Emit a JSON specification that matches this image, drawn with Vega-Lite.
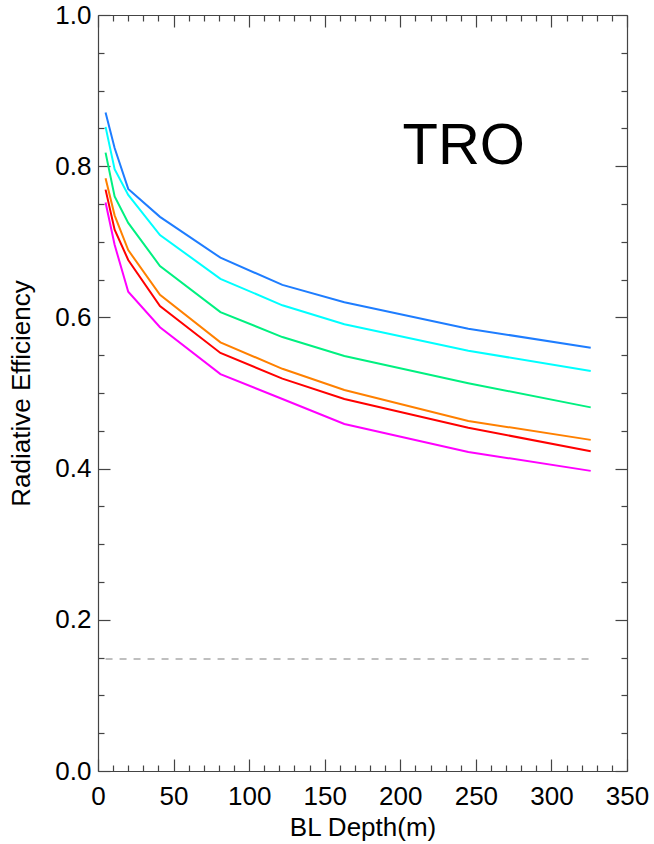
{
  "$schema": "https://vega.github.io/schema/vega-lite/v6.json",
  "width": 529,
  "height": 756,
  "autosize": "none",
  "padding": {"left": 98, "top": 15, "right": 27, "bottom": 73},
  "background": "white",
  "config": {
    "view": {"stroke": null},
    "axis": {
      "domainColor": "#444444",
      "tickColor": "#444444",
      "domainWidth": 1.2,
      "tickWidth": 1.2,
      "grid": false,
      "labelFont": "Liberation Sans",
      "titleFont": "Liberation Sans",
      "labelFontSize": 26,
      "titleFontSize": 26,
      "titleFontWeight": "normal",
      "labelColor": "black",
      "titleColor": "black",
      "labelOverlap": false,
      "labelFlush": false
    }
  },
  "datasets": {
    "curves": [
      {"series": "s1", "depth": 5, "eff": 0.871}, {"series": "s1", "depth": 11, "eff": 0.824}, {"series": "s1", "depth": 20, "eff": 0.770}, {"series": "s1", "depth": 41, "eff": 0.733}, {"series": "s1", "depth": 81, "eff": 0.679}, {"series": "s1", "depth": 122, "eff": 0.643}, {"series": "s1", "depth": 163, "eff": 0.620}, {"series": "s1", "depth": 245, "eff": 0.585}, {"series": "s1", "depth": 326, "eff": 0.560},
      {"series": "s2", "depth": 5, "eff": 0.852}, {"series": "s2", "depth": 11, "eff": 0.796}, {"series": "s2", "depth": 20, "eff": 0.762}, {"series": "s2", "depth": 41, "eff": 0.709}, {"series": "s2", "depth": 81, "eff": 0.651}, {"series": "s2", "depth": 122, "eff": 0.616}, {"series": "s2", "depth": 163, "eff": 0.591}, {"series": "s2", "depth": 245, "eff": 0.556}, {"series": "s2", "depth": 326, "eff": 0.529},
      {"series": "s3", "depth": 5, "eff": 0.818}, {"series": "s3", "depth": 11, "eff": 0.760}, {"series": "s3", "depth": 20, "eff": 0.725}, {"series": "s3", "depth": 41, "eff": 0.668}, {"series": "s3", "depth": 81, "eff": 0.607}, {"series": "s3", "depth": 122, "eff": 0.574}, {"series": "s3", "depth": 163, "eff": 0.549}, {"series": "s3", "depth": 245, "eff": 0.513}, {"series": "s3", "depth": 326, "eff": 0.481},
      {"series": "s4", "depth": 5, "eff": 0.784}, {"series": "s4", "depth": 11, "eff": 0.735}, {"series": "s4", "depth": 20, "eff": 0.689}, {"series": "s4", "depth": 41, "eff": 0.630}, {"series": "s4", "depth": 81, "eff": 0.567}, {"series": "s4", "depth": 122, "eff": 0.532}, {"series": "s4", "depth": 163, "eff": 0.504}, {"series": "s4", "depth": 245, "eff": 0.463}, {"series": "s4", "depth": 326, "eff": 0.438},
      {"series": "s5", "depth": 5, "eff": 0.769}, {"series": "s5", "depth": 11, "eff": 0.716}, {"series": "s5", "depth": 20, "eff": 0.676}, {"series": "s5", "depth": 41, "eff": 0.615}, {"series": "s5", "depth": 81, "eff": 0.553}, {"series": "s5", "depth": 122, "eff": 0.519}, {"series": "s5", "depth": 163, "eff": 0.492}, {"series": "s5", "depth": 245, "eff": 0.454}, {"series": "s5", "depth": 326, "eff": 0.423},
      {"series": "s6", "depth": 5, "eff": 0.752}, {"series": "s6", "depth": 11, "eff": 0.696}, {"series": "s6", "depth": 20, "eff": 0.634}, {"series": "s6", "depth": 41, "eff": 0.587}, {"series": "s6", "depth": 81, "eff": 0.525}, {"series": "s6", "depth": 122, "eff": 0.492}, {"series": "s6", "depth": 163, "eff": 0.459}, {"series": "s6", "depth": 245, "eff": 0.422}, {"series": "s6", "depth": 326, "eff": 0.397}
    ],
    "reference": [{"start": 5, "end": 326, "level": 0.148}],
    "annotation": [{"label": "TRO", "depth": 242, "eff": 0.803}]
  },
  "layer": [
    {
      "data": {"name": "curves"},
      "mark": {"type": "line", "strokeWidth": 2},
      "encoding": {
        "x": {
          "field": "depth", "type": "quantitative",
          "scale": {"domain": [0, 350], "nice": false, "zero": false},
          "axis": {
            "orient": "bottom",
            "values": [0,10,20,30,40,50,60,70,80,90,100,110,120,130,140,150,160,170,180,190,200,210,220,230,240,250,260,270,280,290,300,310,320,330,340,350],
            "labelExpr": "datum.value % 50 === 0 ? datum.label : ''",
            "tickSize": {"condition": {"test": "datum.value % 50 === 0", "value": -12}, "value": -6},
            "labelPadding": 24,
            "title": "BL Depth(m)",
            "titlePadding": -1
          }
        },
        "y": {
          "field": "eff", "type": "quantitative",
          "scale": {"domain": [0, 1], "nice": false, "zero": false},
          "axis": {
            "orient": "left",
            "values": [0,0.05,0.1,0.15,0.2,0.25,0.3,0.35,0.4,0.45,0.5,0.55,0.6,0.65,0.7,0.75,0.8,0.85,0.9,0.95,1],
            "labelExpr": "abs(datum.value*5 - round(datum.value*5)) < 0.001 ? format(datum.value, '.1f') : ''",
            "tickSize": {"condition": {"test": "abs(datum.value*5 - round(datum.value*5)) < 0.001", "value": -12}, "value": -6},
            "labelPadding": 19,
            "title": "Radiative Efficiency",
            "titlePadding": 20
          }
        },
        "color": {
          "field": "series", "type": "nominal",
          "scale": {"domain": ["s1","s2","s3","s4","s5","s6"], "range": ["#1e7dff","#00ffff","#00f080","#ff8000","#ff0000","#ff00ff"]},
          "legend": null
        }
      }
    },
    {
      "data": {"name": "reference"},
      "mark": {"type": "rule", "color": "#aaaaaa", "strokeWidth": 1.5, "strokeDash": [7, 7]},
      "encoding": {
        "x": {
          "field": "start", "type": "quantitative",
          "scale": {"domain": [0, 350], "nice": false, "zero": false},
          "axis": {
            "orient": "top",
            "values": [0,10,20,30,40,50,60,70,80,90,100,110,120,130,140,150,160,170,180,190,200,210,220,230,240,250,260,270,280,290,300,310,320,330,340,350],
            "labels": false,
            "tickSize": {"condition": {"test": "datum.value % 50 === 0", "value": -12}, "value": -6},
            "title": null
          }
        },
        "x2": {"field": "end"},
        "y": {
          "field": "level", "type": "quantitative",
          "scale": {"domain": [0, 1], "nice": false, "zero": false},
          "axis": {
            "orient": "right",
            "values": [0,0.05,0.1,0.15,0.2,0.25,0.3,0.35,0.4,0.45,0.5,0.55,0.6,0.65,0.7,0.75,0.8,0.85,0.9,0.95,1],
            "labels": false,
            "tickSize": {"condition": {"test": "abs(datum.value*5 - round(datum.value*5)) < 0.001", "value": -12}, "value": -6},
            "title": null
          }
        }
      }
    },
    {
      "data": {"name": "annotation"},
      "mark": {"type": "text", "font": "Liberation Sans", "fontSize": 58, "align": "center", "baseline": "alphabetic", "color": "black"},
      "encoding": {
        "x": {"field": "depth", "type": "quantitative", "scale": {"domain": [0, 350], "nice": false, "zero": false}, "axis": null},
        "y": {"field": "eff", "type": "quantitative", "scale": {"domain": [0, 1], "nice": false, "zero": false}, "axis": null},
        "text": {"field": "label"}
      }
    }
  ],
  "resolve": {"axis": {"x": "independent", "y": "independent"}}
}
